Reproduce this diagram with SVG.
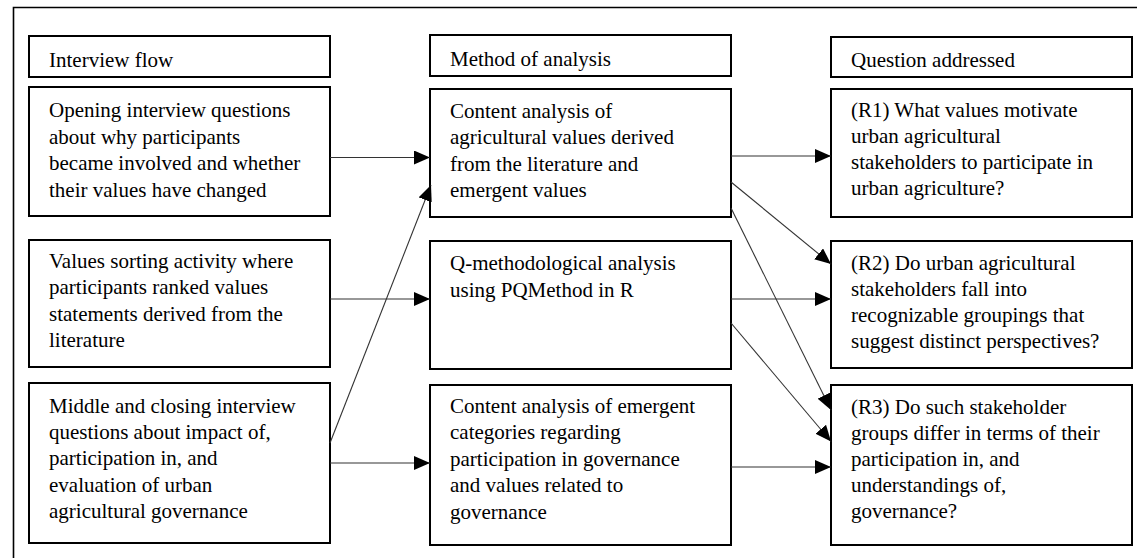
<svg xmlns="http://www.w3.org/2000/svg" width="1137" height="558" viewBox="0 0 1137 558">
<style>
.box{fill:#fff;stroke:#000;stroke-width:2}
.t{font-family:"Liberation Serif","Times New Roman",serif;font-size:21px;fill:#000}
.c{stroke:#333;stroke-width:1.1;fill:none;marker-end:url(#ah)}
</style>
<defs>
<marker id="ah" viewBox="0 0 16 14" refX="16" refY="7" markerWidth="16" markerHeight="14" orient="auto" markerUnits="userSpaceOnUse">
<path d="M0,0 L16,7 L0,14 z" fill="#000"/>
</marker>
</defs>
<rect x="0" y="0" width="1137" height="558" fill="#fff"/>
<path d="M13.5,570 V7.5 H1145" fill="none" stroke="#000" stroke-width="1.6"/>

<g id="h1"><rect class="box" x="29" y="36" width="301" height="41"/><text class="t" x="49" y="66.5">Interview flow</text></g>
<g id="h2"><rect class="box" x="430" y="35" width="301" height="41"/><text class="t" x="450" y="66">Method of analysis</text></g>
<g id="h3"><rect class="box" x="831" y="37" width="301" height="40"/><text class="t" x="851" y="66.5">Question addressed</text></g>

<g id="a1"><rect class="box" x="29" y="87" width="301" height="129"/>
<text class="t" x="49" y="117"><tspan x="49">Opening interview questions</tspan><tspan x="49" dy="26.5">about why participants</tspan><tspan x="49" dy="26.5">became involved and whether</tspan><tspan x="49" dy="26.5">their values have changed</tspan></text></g>
<g id="a2"><rect class="box" x="29" y="240" width="301" height="127"/>
<text class="t" x="49" y="268"><tspan x="49">Values sorting activity where</tspan><tspan x="49" dy="26.3">participants ranked values</tspan><tspan x="49" dy="26.3">statements derived from the</tspan><tspan x="49" dy="26.3">literature</tspan></text></g>
<g id="a3"><rect class="box" x="29" y="383" width="301" height="160"/>
<text class="t" x="49" y="413"><tspan x="49">Middle and closing interview</tspan><tspan x="49" dy="26.2">questions about impact of,</tspan><tspan x="49" dy="26.2">participation in, and</tspan><tspan x="49" dy="26.2">evaluation of urban</tspan><tspan x="49" dy="26.2">agricultural governance</tspan></text></g>

<g id="b1"><rect class="box" x="430" y="89" width="301" height="128"/>
<text class="t" x="450" y="118"><tspan x="450">Content analysis of</tspan><tspan x="450" dy="26.3">agricultural values derived</tspan><tspan x="450" dy="26.3">from the literature and</tspan><tspan x="450" dy="26.3">emergent values</tspan></text></g>
<g id="b2"><rect class="box" x="430" y="241" width="301" height="128"/>
<text class="t" x="450" y="270"><tspan x="450">Q-methodological analysis</tspan><tspan x="450" dy="26.5">using PQMethod in R</tspan></text></g>
<g id="b3"><rect class="box" x="430" y="385" width="301" height="160"/>
<text class="t" x="450" y="413"><tspan x="450">Content analysis of emergent</tspan><tspan x="450" dy="26.4">categories regarding</tspan><tspan x="450" dy="26.4">participation in governance</tspan><tspan x="450" dy="26.4">and values related to</tspan><tspan x="450" dy="26.4">governance</tspan></text></g>

<g id="c1"><rect class="box" x="831" y="89" width="301" height="128"/>
<text class="t" x="851" y="117"><tspan x="851">(R1) What values motivate</tspan><tspan x="851" dy="26">urban agricultural</tspan><tspan x="851" dy="26">stakeholders to participate in</tspan><tspan x="851" dy="26">urban agriculture?</tspan></text></g>
<g id="c2"><rect class="box" x="831" y="241" width="301" height="127"/>
<text class="t" x="851" y="270"><tspan x="851">(R2) Do urban agricultural</tspan><tspan x="851" dy="26.1">stakeholders fall into</tspan><tspan x="851" dy="26.1">recognizable groupings that</tspan><tspan x="851" dy="26.1">suggest distinct perspectives?</tspan></text></g>
<g id="c3"><rect class="box" x="831" y="385" width="301" height="160"/>
<text class="t" x="851" y="413.5"><tspan x="851">(R3) Do such stakeholder</tspan><tspan x="851" dy="26.2">groups differ in terms of their</tspan><tspan x="851" dy="26.2">participation in, and</tspan><tspan x="851" dy="26.2">understandings of,</tspan><tspan x="851" dy="26.2">governance?</tspan></text></g>

<g id="connectors">
<line class="c" x1="330" y1="157.5" x2="430" y2="157.5"/>
<line class="c" x1="330" y1="299" x2="430" y2="299"/>
<line class="c" x1="330" y1="463" x2="430" y2="463"/>
<line class="c" x1="330" y1="443" x2="431" y2="185"/>
<line class="c" x1="731" y1="156" x2="831" y2="156"/>
<line class="c" x1="731" y1="182" x2="831" y2="264"/>
<line class="c" x1="731" y1="208" x2="831" y2="410"/>
<line class="c" x1="731" y1="299" x2="831" y2="299"/>
<line class="c" x1="731" y1="323" x2="831" y2="441.5"/>
<line class="c" x1="731" y1="467" x2="831" y2="467"/>
</g>
</svg>
